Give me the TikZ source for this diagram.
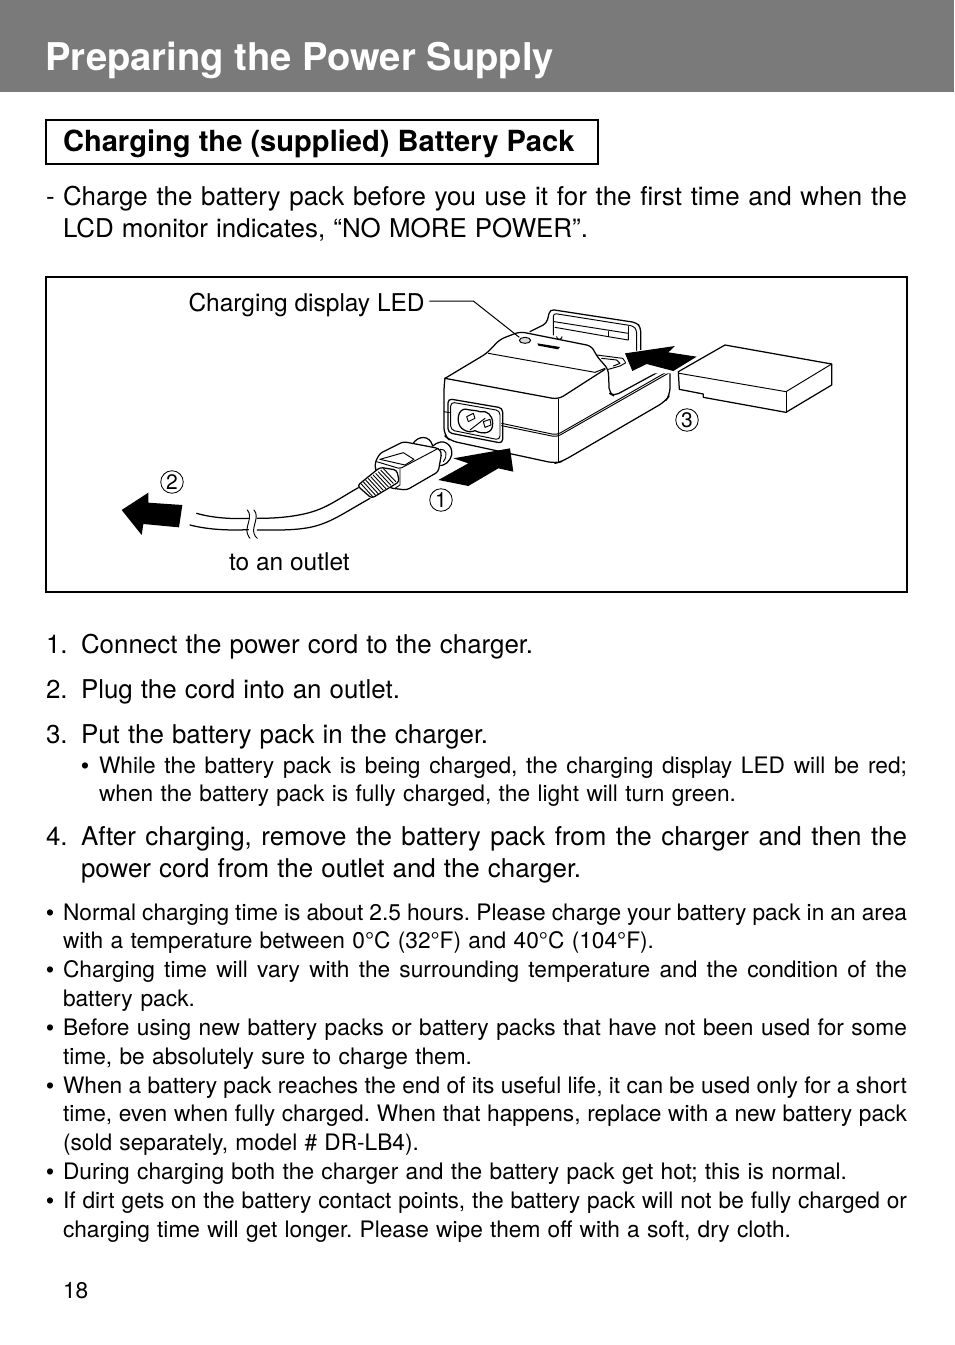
\documentclass[tikz,border=0pt]{standalone}
\usepackage{fontspec}
\setmainfont{TeX Gyre Heros}
\newfontfamily\bulletfont{Liberation Sans}
\frenchspacing
\newcommand{\bigtxt}{\fontsize{25.9}{30}\selectfont}
\newcommand{\smalltxt}{\fontsize{22.7}{26}\selectfont}
\newcommand{\lbltxt}{\fontsize{24.5}{28}\selectfont}
% name, x, baseline y, right end, font, text
\newcommand{\tline}[6]{\node[txt] (#1) at (#2,#3) {#5\makebox[\dimexpr#4pt-#2pt\relax][s]{#6}};}
\newcommand{\plain}[5]{\node[txt] (#1) at (#2,#3) {#4#5};}
\tikzset{
  txt/.style={anchor=base west,inner sep=0pt,outer sep=0pt},
  ill/.style={line width=1.25pt,line join=round,line cap=round,black},
  thin ill/.style={line width=0.95pt,line join=round,line cap=round,black},
  num/.style={circle,draw=black,line width=0.85pt,minimum size=22.5pt,inner sep=0pt,font=\fontsize{21}{22}\selectfont},
  zoomA/.style={xshift=420pt,yshift=-290pt,x=0.33333pt,y=-0.33333pt},
  zoomB/.style={xshift=110pt,yshift=-420pt,x=0.33333pt,y=-0.33333pt},
}
\begin{document}
\begin{tikzpicture}[x=1pt,y=-1pt]
\path[use as bounding box,fill=white] (0,0) rectangle (954,1345);
\fill[fill=black!52] (0,0) rectangle (954,92);
\node[txt,text=white] (title) at (45.5,70) {\fontsize{38.2}{44}\selectfont\bfseries Preparing the Power Supply};
\draw[line width=1.4pt] (46,120) rectangle (598,164);
\node[txt] (head) at (63,151) {\fontsize{29.1}{32}\selectfont\bfseries Charging the (supplied) Battery Pack};

\plain{dash}{46}{205}{\bigtxt}{-}
\tline{a1}{63}{205}{907}{\bigtxt}{Charge the battery pack before you use it for the first time and when the}
\tline{a2}{63}{237}{588}{\bigtxt}{LCD monitor indicates, “NO MORE POWER”.}

\draw[line width=1.2pt] (46,277) rectangle (907,592);
\node[txt] (ledlabel) at (188.5,311) {\lbltxt Charging display LED};
\node[txt] (outlet) at (229,570) {\lbltxt to an outlet};
\node[num] (n1) at (441,500) {1};
\node[num] (n2) at (172,482) {2};
\node[num] (n3) at (687,420) {3};

% charger
\begin{scope}[zoomA]
\coordinate (ledstart) at (28,33);
\coordinate (ledbend) at (160,33);
\coordinate (ledpt) at (298,142);
% back holder
\draw[ill,rounded corners=4pt] (330,125) -- (380,100) -- (390,58) -- (650,98) -- (662,112) -- (662,188);
\draw[thin ill,rounded corners=3pt] (400,135) -- (400,70) -- (640,108) -- (650,120) -- (650,188);
\draw[thin ill] (403,95) -- (625,130) -- (625,150) -- (565,140) -- (405,112);
\draw[thin ill] (565,125) -- (565,140);
\draw[thin ill] (625,110) -- (625,130);
\draw[thin ill] (410,140) arc (180:0:8);
% body
\draw[ill,rounded corners=5pt] (75,265) -- (200,190) -- (240,148) -- (300,125) -- (515,168) -- (530,198) -- (565,238) -- (568,310) -- (582,318) -- (748,228);
\draw[ill,rounded corners=7pt] (750,240) -- (750,315) -- (735,335) -- (425,515) -- (405,520) -- (90,452) -- (72,435) -- (72,285) -- (75,265);
\draw[ill,rounded corners=6pt] (75,265) -- (415,328) -- (555,238);
\draw[thin ill] (205,190) -- (525,247) -- (555,235);
\draw[ill] (415,328) -- (415,515);
\draw[thin ill,rounded corners=4pt] (245,400) -- (410,435) -- (745,243);
\draw[thin ill,rounded corners=4pt] (245,407) -- (410,441) -- (748,248);
\draw[thin ill] (72,365) -- (88,368);
% recess details
\draw[thin ill] (530,195) -- (608,205) -- (618,218) -- (600,228) -- (565,238);
\draw[thin ill] (545,205) -- (590,210) -- (600,220) -- (580,228);
% LED and slot
\draw[thin ill,fill=black!15] (315,151) ellipse (17 and 9);
\fill[black] (352,160) -- (420,171) -- (414,178) -- (355,167) -- cycle;
% socket
\draw[ill,rounded corners=4pt] (84,326) -- (248,354) -- (248,460) -- (84,428) -- cycle;
\draw[thin ill,rounded corners=4pt] (92,336) -- (240,362) -- (240,450) -- (92,420) -- cycle;
\draw[ill] (140,358) .. controls (115,352) and (105,395) .. (125,415)
  .. controls (145,430) and (155,425) .. (165,422)
  .. controls (190,435) and (220,430) .. (218,400)
  .. controls (218,375) and (200,360) .. (180,365)
  .. controls (165,360) and (155,362) .. (140,358);
\draw[thin ill] (140,380) -- (160,370) -- (165,385) -- (145,395) -- cycle;
\draw[thin ill] (190,395) -- (210,388) -- (213,405) -- (195,412) -- cycle;
\draw[thin ill] (150,420) -- (195,385);
% battery
\draw[ill] (775,245) -- (915,165) -- (1235,222) -- (1235,285) -- (1098,367) -- (850,322) -- (850,312) -- (778,298) -- cycle;
\draw[thin ill] (778,250) -- (1098,305) -- (1235,222);
\draw[thin ill] (1098,305) -- (1098,367);
% arrow 3
\fill[white] (605,190) -- (770,162) -- (845,200) -- (760,250) -- (635,250) -- cycle;
\fill[black] (615,190) -- (765,168) -- (745,187) -- (830,200) -- (760,243) -- (680,222) -- (637,243) -- cycle;
\end{scope}
\draw[line width=1pt,line join=round] (ledstart) -- (ledbend) -- (ledpt);

% cord and plug
\begin{scope}[zoomB]
% barrels
\draw[ill] (908,72) .. controls (925,45) and (960,45) .. (968,78);
\fill[white] (968,80) .. controls (1000,50) and (1030,75) .. (1025,105) .. controls (1020,125) and (1005,135) .. (990,135) -- cycle;
\draw[ill] (968,78) .. controls (1000,50) and (1030,75) .. (1025,105) .. controls (1020,125) and (1005,135) .. (992,137);
\draw[thin ill] (990,88) .. controls (1008,85) and (1015,105) .. (1000,125);
% body
\draw[ill,fill=white,rounded corners=3pt] (796,125) -- (810,100) -- (880,65) -- (985,85) -- (995,98) -- (985,155) -- (890,210) -- (840,204) -- (796,150) -- cycle;
\draw[thin ill,rounded corners=2pt] (800,125) -- (870,146) -- (985,85);
\draw[thin ill] (870,146) -- (870,195) -- (855,205);
\draw[thin ill] (810,118) -- (880,98) -- (912,118) -- (885,135);
\draw[thin ill] (810,118) -- (885,135);
% strain relief
\draw[ill,fill=white,rounded corners=3pt] (742,197) -- (810,142) -- (860,150) -- (868,185) -- (785,235) -- cycle;
\foreach \i in {0,...,9} {
  \draw[line width=0.9pt,black] ({752+\i*7.5},{190-\i*5}) -- ({790+\i*7.5},{232-\i*5.2});
}
% cord
\draw[ill] (745,203) .. controls (680,240) and (650,265) .. (590,280) .. controls (540,292) and (490,295) .. (442,295);
\draw[ill] (415,295) .. controls (360,298) and (300,292) .. (260,280);
\draw[ill] (780,235) .. controls (700,280) and (660,310) .. (600,322) .. controls (550,332) and (490,330) .. (442,330);
\draw[ill] (415,329) .. controls (350,332) and (290,328) .. (240,315);
% break
\draw[thin ill] (412,270) .. controls (430,290) and (405,320) .. (412,340) .. controls (414,348) and (418,352) .. (420,355);
\draw[thin ill] (432,270) .. controls (450,290) and (425,320) .. (432,340) .. controls (434,348) and (438,352) .. (442,355);
% arrows
\fill[black] (1200,85) -- (1210,155) -- (1165,145) -- (1075,198) -- (985,180) -- (1075,130) -- (1030,115) -- cycle;
\fill[black] (35,270) -- (115,218) -- (115,248) -- (217,255) -- (207,322) -- (100,312) -- (95,345) -- cycle;
\end{scope}

% numbered steps
\plain{s1}{46}{653}{\bigtxt}{1.}
\tline{b1}{81}{653}{533}{\bigtxt}{Connect the power cord to the charger.}
\plain{s2}{46}{698}{\bigtxt}{2.}
\tline{b2}{81}{698}{400}{\bigtxt}{Plug the cord into an outlet.}
\plain{s3}{46}{743}{\bigtxt}{3.}
\tline{b3}{81}{743}{488}{\bigtxt}{Put the battery pack in the charger.}
\plain{d1}{81}{773}{\smalltxt\bulletfont}{•}
\tline{c1}{99}{773}{907}{\smalltxt}{While the battery pack is being charged, the charging display LED will be red;}
\tline{c2}{99}{801}{736}{\smalltxt}{when the battery pack is fully charged, the light will turn green.}
\plain{s4}{46}{845}{\bigtxt}{4.}
\tline{b4}{81}{845}{907}{\bigtxt}{After charging, remove the battery pack from the charger and then the}
\tline{b5}{81}{877}{581}{\bigtxt}{power cord from the outlet and the charger.}

% notes
\plain{e1}{46}{920}{\smalltxt\bulletfont}{•}
\tline{f1}{63}{920}{907}{\smalltxt}{Normal charging time is about 2.5 hours. Please charge your battery pack in an area}
\tline{f2}{63}{948}{654}{\smalltxt}{with a temperature between 0°C (32°F) and 40°C (104°F).}
\plain{e2}{46}{977}{\smalltxt\bulletfont}{•}
\tline{f3}{63}{977}{907}{\smalltxt}{Charging time will vary with the surrounding temperature and the condition of the}
\tline{f4}{63}{1006}{195}{\smalltxt}{battery pack.}
\plain{e3}{46}{1035}{\smalltxt\bulletfont}{•}
\tline{f5}{63}{1035}{907}{\smalltxt}{Before using new battery packs or battery packs that have not been used for some}
\tline{f6}{63}{1064}{472}{\smalltxt}{time, be absolutely sure to charge them.}
\plain{e4}{46}{1093}{\smalltxt\bulletfont}{•}
\tline{f7}{63}{1093}{907}{\smalltxt}{When a battery pack reaches the end of its useful life, it can be used only for a short}
\tline{f8}{63}{1121}{907}{\smalltxt}{time, even when fully charged. When that happens, replace with a new battery pack}
\tline{f9}{63}{1150}{419}{\smalltxt}{(sold separately, model \# DR-LB4).}
\plain{e5}{46}{1179}{\smalltxt\bulletfont}{•}
\tline{f10}{63}{1179}{847}{\smalltxt}{During charging both the charger and the battery pack get hot; this is normal.}
\plain{e6}{46}{1208}{\smalltxt\bulletfont}{•}
\tline{f11}{63}{1208}{907}{\smalltxt}{If dirt gets on the battery contact points, the battery pack will not be fully charged or}
\tline{f12}{63}{1237}{791}{\smalltxt}{charging time will get longer. Please wipe them off with a soft, dry cloth.}
\node[txt] (page) at (63,1298) {\smalltxt 18};
\end{tikzpicture}
\end{document}
